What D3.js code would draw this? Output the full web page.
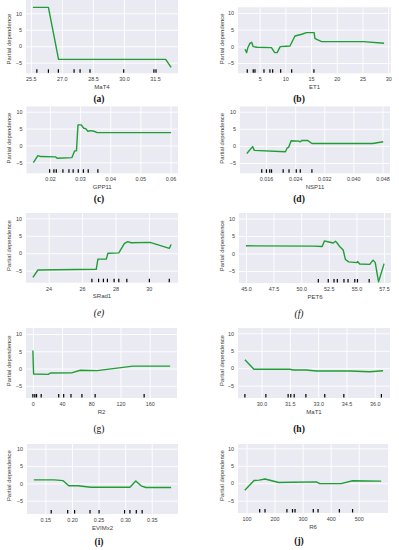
<!DOCTYPE html>
<html><head><meta charset="utf-8">
<script src="https://cdn.jsdelivr.net/npm/d3@7"></script>
<style>body{margin:0;background:#fff}svg{display:block}</style>
</head><body><svg id="c" width="399" height="550"></svg>
<script>
// ---------- DATA ----------
const captions = ["(a)","(b)","(c)","(d)","(e)","(f)","(g)","(h)","(i)","(j)"];
const xTitles  = ["MaT4","ET1","GPP11","NSP11","SRad1","PET6","R2","MaT1","EVIMx2","R6"];
const yTicks   = [-5, 0, 5, 10];

const mat4X = [25.6, 26.35, 26.84, 32.02, 32.28];
const mat4Y = [11.8, 11.8, -4.0, -4.0, -6.4];
const mat4Rug = [25.79, 26.35, 26.83, 27.59, 27.88, 28.36, 29.99, 31.45, 31.55];
const mat4Ticks = [25.5, 27.0, 28.5, 30.0, 31.5];

const et1X = [2.14, 2.47, 2.66, 3.1, 3.44, 3.75, 4.5, 7.3, 7.8, 8.0, 8.4, 9.0, 10.9, 11.87, 13.2, 14.1, 15.6, 15.75, 16.1, 17.06, 25.2, 29.2];
const et1Y = [-0.9, -1.9, -0.6, 0.9, 1.2, -0.1, -0.3, -0.4, -1.6, -1.9, -1.9, -0.1, 0.1, 3.1, 3.6, 4.1, 4.1, 2.4, 2.1, 1.4, 1.4, 0.9];
const et1Rug = [2.59, 3.75, 4.09, 5.84, 7.0, 7.53, 9.09, 11.23, 15.56];
const et1Ticks = [5, 10, 15, 20, 25, 30];

const gppX = [0.0145, 0.016, 0.0169, 0.0219, 0.0224, 0.0273, 0.0282, 0.0288, 0.0293, 0.0304, 0.0312, 0.0318, 0.0326, 0.0335, 0.0346, 0.0357, 0.0602];
const gppY = [-5.1, -3.0, -3.3, -3.4, -3.8, -3.6, -1.6, -1.6, 6.1, 6.1, 5.1, 5.0, 4.2, 4.4, 4.2, 3.8, 3.8];
const gppRug = [0.0199, 0.0213, 0.0221, 0.0243, 0.0263, 0.0277, 0.0294, 0.0311, 0.0327, 0.0359];
const gppTicks = [0.02, 0.03, 0.04, 0.05, 0.06];

const nspX = [0.0107, 0.0123, 0.01275, 0.0213, 0.0218, 0.0222, 0.0229, 0.0250, 0.0254, 0.0259, 0.0274, 0.0286, 0.0453, 0.0482];
const nspY = [-2.2, -0.2, -1.3, -1.7, -0.6, -0.4, 1.5, 1.4, 1.2, 1.6, 1.6, 0.7, 0.7, 1.2];
const nspRug = [0.0148, 0.0161, 0.0170, 0.0175, 0.0207, 0.0223, 0.0243, 0.0254, 0.0286];
const nspTicks = [0.016, 0.024, 0.032, 0.040, 0.048];

const sradX = [23.06, 23.36, 26.85, 26.95, 27.45, 27.55, 28.2, 28.54, 28.74, 28.94, 30.07, 31.23, 31.33];
const sradY = [-6.9, -4.8, -4.6, -1.7, -1.7, 0.0, 0.1, 2.8, 3.3, 3.0, 3.1, 1.4, 2.5];
const sradRug = [26.59, 26.99, 27.28, 27.52, 27.92, 28.2, 28.68, 30.03, 31.22];
const sradTicks = [24, 26, 28, 30];

const petX = [45.0, 51.15, 51.9, 52.1, 52.5, 52.9, 53.1, 53.25, 53.5, 53.8, 54.0, 54.3, 55.05, 55.1, 55.3, 56.2, 56.5, 56.7, 57.0, 57.5];
const petY = [2.2, 2.1, 2.0, 3.6, 3.3, 3.0, 3.5, 3.0, 1.9, 1.0, -1.7, -2.4, -2.6, -2.3, -3.0, -3.1, -1.9, -2.6, -8.1, -2.9];
const petRug = [51.55, 52.45, 52.97, 53.27, 53.87, 54.24, 54.85, 55.09, 56.15];
const petTicks = [45.0, 47.5, 50.0, 52.5, 55.0, 57.5];

const r2X = [0, 1, 21, 24, 54, 65, 88, 137, 188];
const r2Y = [5.2, -1.6, -1.7, -1.3, -1.2, -0.5, -0.6, 0.7, 0.7];
const r2Rug = [0, 2.7, 5.0, 11.4, 35.4, 42.2, 52.2, 67.2, 85.3, 152.4];
const r2Ticks = [0, 40, 80, 120, 160];

const mat1X = [29.12, 29.6, 31.5, 31.68, 32.35, 32.91, 34.68, 35.73, 36.44];
const mat1Y = [2.4, -0.3, -0.3, -0.5, -0.5, -0.8, -0.8, -1.0, -0.7];
const mat1Rug = [29.12, 30.23, 31.41, 31.55, 31.73, 32.35, 33.35, 34.36, 36.35];
const mat1Ticks = [30.0, 31.5, 33.0, 34.5, 36.0];

const eviX = [0.1284, 0.167, 0.183, 0.194, 0.211, 0.236, 0.309, 0.320, 0.330, 0.339, 0.3865];
const eviY = [1.0, 1.0, 0.8, -0.7, -0.7, -1.1, -1.1, 0.7, -0.7, -1.2, -1.2];
const eviRug = [0.161, 0.192, 0.205, 0.234, 0.251, 0.299, 0.309, 0.321, 0.332];
const eviTicks = [0.15, 0.20, 0.25, 0.30, 0.35];

const r6X = [94, 127, 145, 166, 215, 262, 349, 361, 437, 478, 580];
const r6Y = [-2.0, 0.8, 0.9, 1.2, 0.2, 0.3, 0.4, -0.1, -0.1, 0.7, 0.6];
const r6Rug = [147, 166, 244, 264, 273, 338, 355, 431, 478];
const r6Ticks = [100, 200, 300, 400, 500];

const seriesX = [mat4X, et1X, gppX, nspX, sradX, petX, r2X, mat1X, eviX, r6X];
const seriesY = [mat4Y, et1Y, gppY, nspY, sradY, petY, r2Y, mat1Y, eviY, r6Y];
const rugs    = [mat4Rug, et1Rug, gppRug, nspRug, sradRug, petRug, r2Rug, mat1Rug, eviRug, r6Rug];
const xTicks  = [mat4Ticks, et1Ticks, gppTicks, nspTicks, sradTicks, petTicks, r2Ticks, mat1Ticks, eviTicks, r6Ticks];
const xFormats = [".1f", "d", ".2f", ".3f", "d", ".1f", "d", ".1f", ".2f", "d"];

// ---------- LAYOUT ----------
const layout = [
  {left:26,  right:178, top:0,     bottom:73.3,  y10:13.3,  yM5:62.7,  cap:101.5, style:"bold"},
  {left:238, right:391, top:7.3,   bottom:73.3,  y10:12.9,  yM5:63.0,  cap:102,   style:"bold"},
  {left:26.5,right:178, top:106.5, bottom:173.3, y10:111.7, yM5:162.3, cap:202,   style:"bold"},
  {left:240, right:390, top:106.5, bottom:173.3, y10:111.7, yM5:163.0, cap:202,   style:"bold"},
  {left:26,  right:178, top:213,   bottom:282.7, y10:218.3, yM5:270.7, cap:316,   style:"italic"},
  {left:239, right:391, top:213,   bottom:283,   y10:218.5, yM5:271.0, cap:317,   style:"italic"},
  {left:26,  right:177, top:328,   bottom:398,   y10:334,   yM5:385.8, cap:432,   style:"normal"},
  {left:238, right:390, top:328,   bottom:398,   y10:333.3, yM5:385.7, cap:432,   style:"bold"},
  {left:27,  right:178, top:444,   bottom:514,   y10:448.7, yM5:500.7, cap:545,   style:"bold"},
  {left:238, right:388, top:444,   bottom:513,   y10:448.3, yM5:500.7, cap:544,   style:"bold"}
];

const svg = d3.select("#c");
const BG = "#EAEAF2", LINE = "#1f9e35", TXT = "#3c3c3c";
const minusFmt = d => (d < 0 ? "\u2212" + Math.abs(d) : String(d));

layout.forEach((L, i) => {
  const g = svg.append("g");
  const xs = seriesX[i], ys = seriesY[i];
  const ext = d3.extent(xs), pad = (ext[1] - ext[0]) * 0.05;
  const x = d3.scaleLinear().domain([ext[0] - pad, ext[1] + pad]).range([L.left, L.right]);
  const y = d3.scaleLinear().domain([10, -5]).range([L.y10, L.yM5]);
  const w = L.right - L.left, h = L.bottom - L.top;

  g.append("rect").attr("x", L.left).attr("y", L.top).attr("width", w).attr("height", h).attr("fill", BG);

  const fmt = d3.format(xFormats[i]);
  const xa = g.append("g").attr("transform", `translate(0,${L.bottom})`)
    .call(d3.axisBottom(x).tickValues(xTicks[i]).tickSize(-h).tickPadding(4).tickFormat(fmt));
  const ya = g.append("g").attr("transform", `translate(${L.left},0)`)
    .call(d3.axisLeft(y).tickValues(yTicks).tickSize(-w).tickPadding(4).tickFormat(minusFmt));
  [xa, ya].forEach(a => {
    a.select(".domain").remove();
    a.selectAll(".tick line").attr("stroke", "#fff").attr("stroke-width", 0.9);
    a.selectAll(".tick text").attr("fill", TXT).style("font-family", "Liberation Sans, Arial, sans-serif").style("font-size", "5.4px");
  });
  ya.selectAll(".tick").filter(d => y(d) < L.top || y(d) > L.bottom).select("line").remove();

  const cid = "clip" + i;
  g.append("clipPath").attr("id", cid).append("rect")
    .attr("x", L.left).attr("y", L.top).attr("width", w).attr("height", h);

  const line = d3.line().x(d => x(d[0])).y(d => y(d[1]));
  g.append("path").datum(xs.map((v, k) => [v, ys[k]]))
    .attr("clip-path", `url(#${cid})`)
    .attr("d", line).attr("fill", "none").attr("stroke", LINE).attr("stroke-width", 1.4)
    .attr("stroke-linejoin", "round");

  g.selectAll("line.rug").data(rugs[i]).join("line").attr("class", "rug")
    .attr("x1", d => x(d)).attr("x2", d => x(d))
    .attr("y1", L.bottom - 0.5).attr("y2", L.bottom - 4)
    .attr("stroke", "#000").attr("stroke-width", 1.2);

  const isLeft = i % 2 === 0;
  g.append("text").attr("x", (L.left + L.right) / 2).attr("y", L.bottom + 15.5)
    .attr("text-anchor", "middle").attr("fill", TXT)
    .style("font-family", "Liberation Sans, Arial, sans-serif").style("font-size", "6px")
    .text(xTitles[i]);

  const ty = (L.y10 + L.yM5) / 2 + 1;
  const tx = isLeft ? 10.5 : 224;
  g.append("text").attr("transform", `translate(${tx},${ty}) rotate(-90)`)
    .attr("text-anchor", "middle").attr("fill", TXT)
    .style("font-family", "Liberation Sans, Arial, sans-serif").style("font-size", "5.9px")
    .text("Partial dependence");

  g.append("text").attr("x", isLeft ? 99 : 299).attr("y", L.cap)
    .attr("text-anchor", "middle").attr("fill", "#111")
    .style("font-family", "Liberation Serif, Times New Roman, serif").style("font-size", "9.5px")
    .style("font-weight", L.style === "bold" ? "bold" : "normal")
    .style("font-style", L.style === "italic" ? "italic" : "normal")
    .text(captions[i]);
});
</script></body></html>
